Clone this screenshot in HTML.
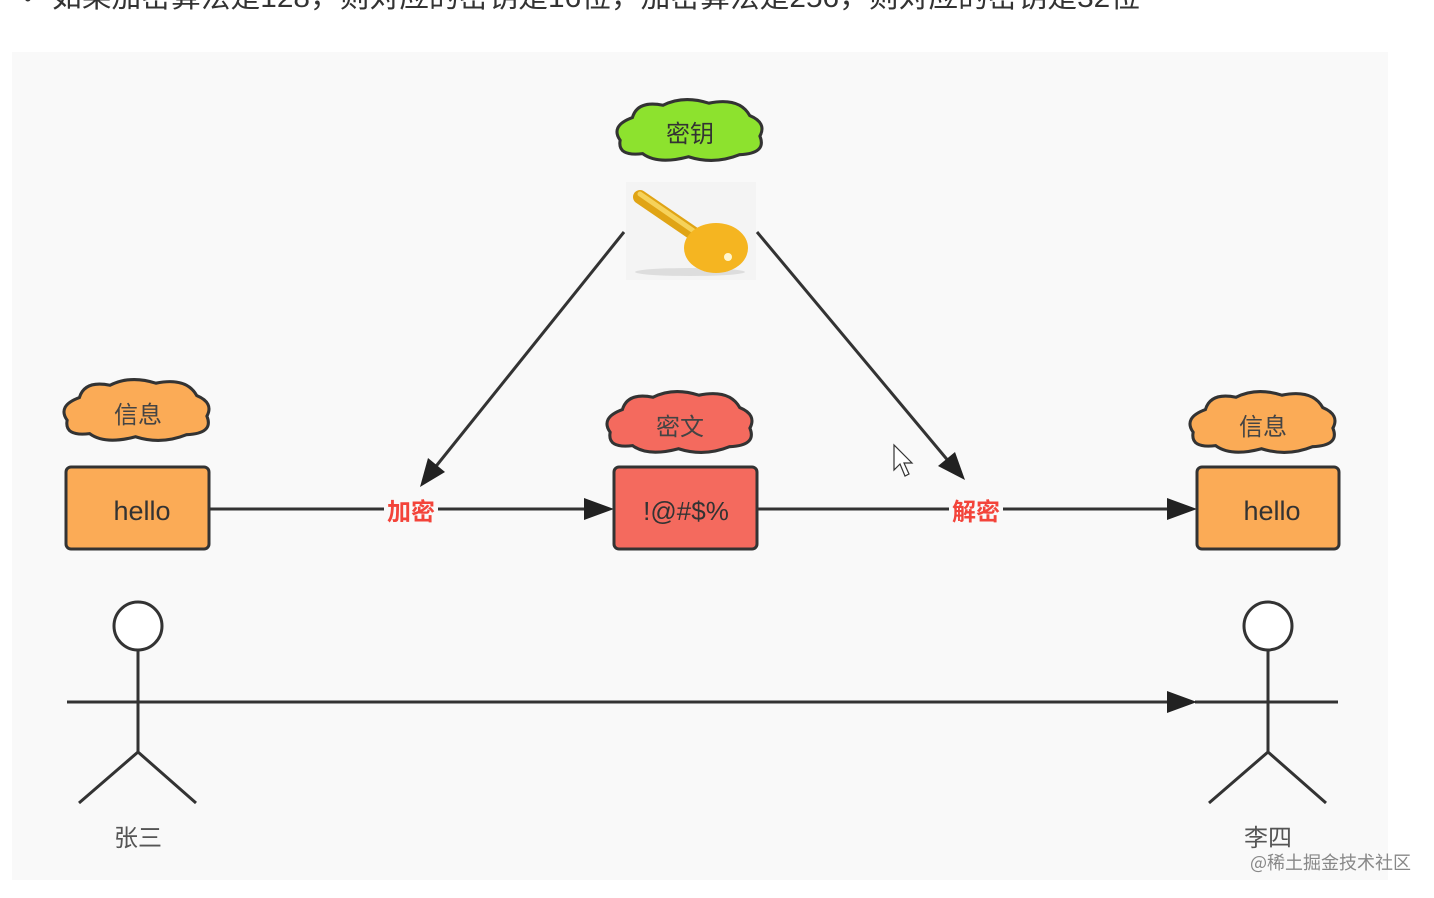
<!DOCTYPE html>
<html><head><meta charset="utf-8"><style>
html,body{margin:0;padding:0;background:#fff;}
body{width:1434px;height:898px;overflow:hidden;position:relative;font-family:"Liberation Sans","Noto Sans CJK SC",sans-serif;}
</style></head><body>
<svg width="1434" height="898" xmlns="http://www.w3.org/2000/svg" style="position:absolute;left:0;top:0">
<defs>
<path id="cloud" d="M20,20 Q25,3 50,8 Q70,-2 95,6 Q125,0 135,18 Q152,25 145,38 Q152,55 125,56 Q100,66 75,58 Q45,66 30,55 Q5,58 8,42 Q-2,28 20,20 Z"/>
</defs>
<text x="24" y="6" font-size="22" fill="#333">•</text>
<text x="52" y="7" font-size="28" fill="#333" textLength="1088" lengthAdjust="spacingAndGlyphs" font-family="Liberation Sans,Noto Sans CJK SC,sans-serif">如果加密算法是128，则对应的密钥是16位，加密算法是256，则对应的密钥是32位</text>
<rect x="12" y="52" width="1376" height="828" fill="#f9f9f9"/>

<use href="#cloud" transform="translate(612,97) scale(1.02,1.03)" fill="#8de22e" stroke="#333" stroke-width="3"/>
<text x="690" y="142" font-size="24" fill="#333" text-anchor="middle" font-family="Noto Sans CJK SC,sans-serif">密钥</text>
<use href="#cloud" transform="translate(59,377) scale(1.02,1.03)" fill="#fbab56" stroke="#333" stroke-width="3"/>
<text x="138" y="423" font-size="24" fill="#444" text-anchor="middle" font-family="Noto Sans CJK SC,sans-serif">信息</text>
<use href="#cloud" transform="translate(602,389) scale(1.02,1.03)" fill="#f46a5e" stroke="#333" stroke-width="3"/>
<text x="680" y="435" font-size="24" fill="#444" text-anchor="middle" font-family="Noto Sans CJK SC,sans-serif">密文</text>
<use href="#cloud" transform="translate(1185,389) scale(1.02,1.03)" fill="#fbab56" stroke="#333" stroke-width="3"/>
<text x="1263" y="435" font-size="24" fill="#444" text-anchor="middle" font-family="Noto Sans CJK SC,sans-serif">信息</text>

<rect x="626" y="182" width="130" height="98" fill="#f4f4f4"/>
<ellipse cx="690" cy="272" rx="55" ry="4" fill="#ddd"/>
<line x1="640" y1="197" x2="700" y2="238" stroke="#e0a415" stroke-width="14" stroke-linecap="round"/>
<line x1="640" y1="194" x2="698" y2="234" stroke="#f6d25a" stroke-width="5" stroke-linecap="round"/>
<ellipse cx="716" cy="248" rx="32" ry="25" fill="#f5b521"/>
<circle cx="728" cy="257" r="4" fill="#fff6d0"/>

<g stroke="#333" stroke-width="3" fill="none">
<line x1="209" y1="509" x2="590" y2="509"/>
<line x1="757" y1="509" x2="1172" y2="509"/>
<line x1="67" y1="702" x2="1172" y2="702"/>
<line x1="1195" y1="702" x2="1338" y2="702"/>
<line x1="624" y1="232" x2="433" y2="470"/>
<line x1="757" y1="232" x2="950" y2="463"/>
</g>
<g fill="#222">
<polygon points="614,509 584,498 584,520"/>
<polygon points="1197,509 1167,498 1167,520"/>
<polygon points="1197,702 1167,691 1167,713"/>
<polygon points="420,487 428,458 445,472"/>
<polygon points="965,480 938,466 955,452"/>
</g>
<rect x="384" y="496" width="54" height="28" fill="#f9f9f9"/>
<text x="411" y="520" font-size="24" font-weight="bold" fill="#f3443a" text-anchor="middle" font-family="Noto Sans CJK SC,sans-serif">加密</text>
<rect x="949" y="496" width="54" height="28" fill="#f9f9f9"/>
<text x="976" y="520" font-size="24" font-weight="bold" fill="#f3443a" text-anchor="middle" font-family="Noto Sans CJK SC,sans-serif">解密</text>

<rect x="66" y="467" width="143" height="82" rx="5" fill="#fbab56" stroke="#333" stroke-width="3"/>
<text x="142" y="520" font-size="27" fill="#333" text-anchor="middle">hello</text>
<rect x="614" y="467" width="143" height="82" rx="5" fill="#f46a5e" stroke="#333" stroke-width="3"/>
<text x="686" y="520" font-size="26" fill="#333" text-anchor="middle">!@#$%</text>
<rect x="1197" y="467" width="142" height="82" rx="5" fill="#fbab56" stroke="#333" stroke-width="3"/>
<text x="1272" y="520" font-size="27" fill="#333" text-anchor="middle">hello</text>

<g stroke="#333" stroke-width="3" fill="#fff">
<circle cx="138" cy="626" r="24"/>
<line x1="138" y1="650" x2="138" y2="752"/>
<polyline points="79,803 138,752 196,803" fill="none"/>
<circle cx="1268" cy="626" r="24"/>
<line x1="1268" y1="650" x2="1268" y2="752"/>
<polyline points="1209,803 1268,752 1326,803" fill="none"/>
</g>
<text x="138" y="846" font-size="24" fill="#555" text-anchor="middle" font-family="Noto Sans CJK SC,sans-serif">张三</text>
<text x="1268" y="846" font-size="24" fill="#555" text-anchor="middle" font-family="Noto Sans CJK SC,sans-serif">李四</text>
<text x="1250" y="869" font-size="18" fill="#888" font-family="Noto Sans CJK SC,sans-serif">@稀土掘金技术社区</text>

<path d="M894,445 L894,470 L900,464 L905,476 L909,474 L904,463 L912,463 Z" fill="#fff" stroke="#333" stroke-width="1.2"/>
</svg>
</body></html>
